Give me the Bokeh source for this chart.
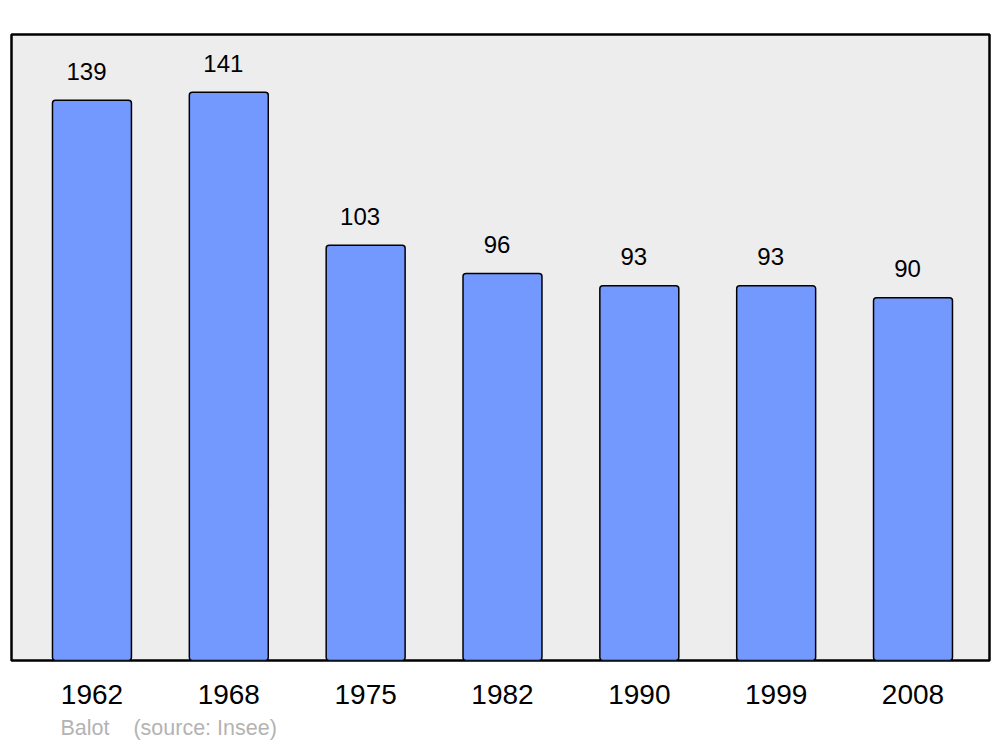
from bokeh.plotting import figure
from bokeh.models import Range1d, ColumnDataSource, Title
from bokeh.core.properties import value
from bokeh.embed import file_html
from bokeh.resources import INLINE

years = ["1962", "1968", "1975", "1982", "1990", "1999", "2008"]
population = [139, 141, 103, 96, 93, 93, 90]
footer = "Balot\u00a0\u00a0\u00a0\u00a0(source: Insee)"

xs = list(range(len(years)))
src = ColumnDataSource(dict(x=xs, top=population, lbl=[str(v) for v in population]))

p = figure(width=1000, height=747, output_backend="svg", toolbar_location=None,
           x_range=Range1d(-0.588, 6.559), y_range=Range1d(0, 155.3),
           min_border_left=11, min_border_right=11, min_border_top=34, min_border_bottom=87)
p.background_fill_color = "#ededed"
p.border_fill_color = "white"
p.outline_line_color = "black"
p.outline_line_width = 2.5
p.grid.visible = False
p.yaxis.visible = False

p.vbar(x="x", top="top", bottom=0, width=0.577, source=src,
       fill_color="#7399ff", line_color="black", line_width=1.5, border_radius=3)

p.text(x="x", y="top", text="lbl", source=src, x_offset=-5.5, y_offset=-29,
       text_align="center", text_baseline="alphabetic",
       text_font=value("Liberation Sans"), text_font_size="24px", text_color="black")

ax = p.xaxis[0]
ax.ticker = xs
ax.major_label_overrides = {i: y for i, y in zip(xs, years)}
ax.axis_line_color = None
ax.major_tick_line_color = None
ax.minor_tick_line_color = None
ax.major_tick_out = 0
ax.major_tick_in = 0
ax.major_label_standoff = 24
ax.major_label_text_font = "Liberation Sans"
ax.major_label_text_font_size = "28px"
ax.major_label_text_color = "black"

t = Title(text=footer, align="left", offset=49, standoff=14,
          text_font="Liberation Sans", text_font_size="21.5px",
          text_color="#b3b3b3", text_font_style="normal")
p.add_layout(t, "below")

open("out.html", "w").write(file_html(p, INLINE))
